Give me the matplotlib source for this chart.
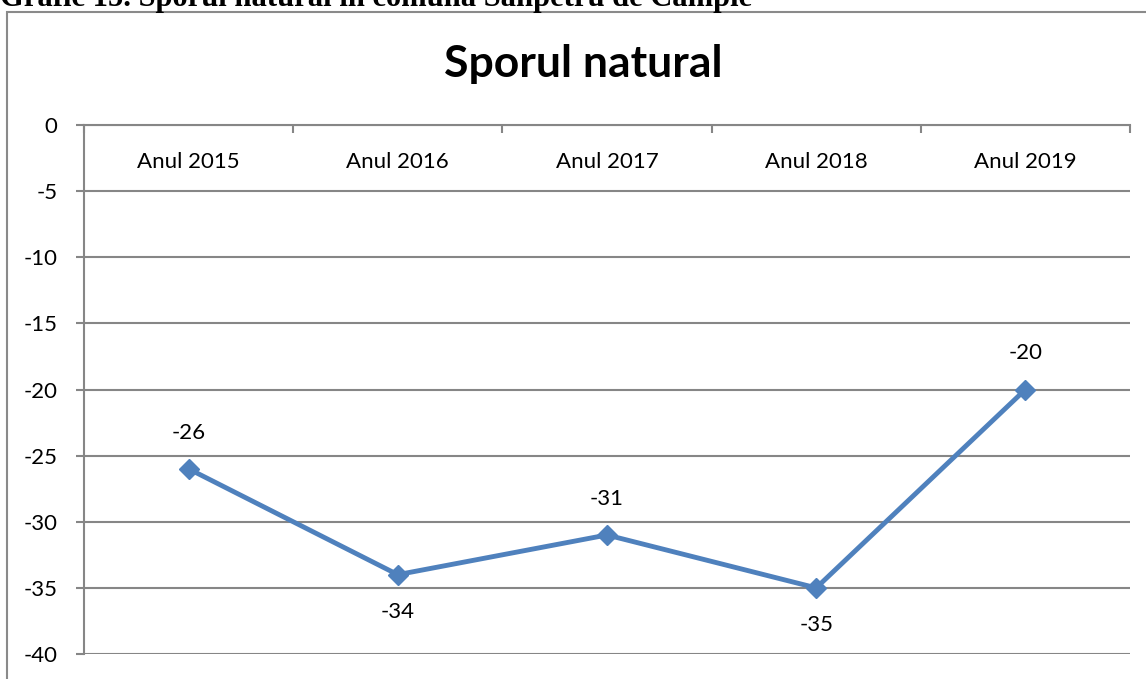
import matplotlib.pyplot as plt
from matplotlib.patches import Rectangle

years = ['Anul 2015', 'Anul 2016', 'Anul 2017', 'Anul 2018', 'Anul 2019']
sporul = [-26, -34, -31, -35, -20]
label_above = [True, False, True, False, True]
yticks = [0, -5, -10, -15, -20, -25, -30, -35, -40]

blue = '#4F81BD'
grid_col = '#868686'

fig = plt.figure(figsize=(11.46, 6.79), dpi=100)
W, H = 1146, 679

# outer chart frame (cut off on right/bottom)
fig.patches.append(Rectangle((7 / W, -0.1), 1.2, 1 - 12 / H + 0.1, transform=fig.transFigure,
                             fill=False, edgecolor='#8a8a8a', linewidth=1.5))

# caption above the chart, cut off at the top edge
fig.text(0.0, 1 - 6 / H, 'Grafic 15. Sporul natural în comuna Sânpetru de Câmpie',
         family='Liberation Serif', fontweight='bold', fontsize=22, va='baseline', ha='left')

ax = fig.add_axes([84 / W, 1 - 654 / H, 1046 / W, 529 / H])
x = list(range(len(years)))
ax.plot(x, sporul, color=blue, linewidth=3.5, marker='D', markersize=10, zorder=3)

for xi, v, up in zip(x, sporul, label_above):
    ax.annotate(str(v), (xi, v), xytext=(0, 26 if up else -27), textcoords='offset points',
                ha='center', va='center', fontsize=16, family='Lato')

ax.set_xlim(-0.5, 4.5)
ax.set_ylim(-40, 0)
ax.set_yticks(yticks)
ax.set_yticklabels([str(t) for t in yticks], family='Lato', fontsize=16)
ax.tick_params(axis='y', length=6, color=grid_col, width=1.5, pad=13)
ax.yaxis.grid(True, color=grid_col, linewidth=1.5)
ax.set_axisbelow(True)

ax.xaxis.tick_top()
ax.set_xticks([i + 0.5 for i in range(-1, 5)], minor=False)
ax.set_xticklabels([])
ax.tick_params(axis='x', which='major', direction='in', length=6, color=grid_col, width=1.5)
ax.set_xticks(x, minor=True)
ax.set_xticklabels(years, minor=True, family='Lato', fontsize=16)
ax.tick_params(axis='x', which='minor', length=0, top=True, labeltop=True,
               direction='in', pad=-34)

for s in ['right', 'bottom']:
    ax.spines[s].set_visible(False)
for s in ['left', 'top']:
    ax.spines[s].set_color(grid_col)
    ax.spines[s].set_linewidth(1.5)

fig.text(583 / W, 1 - 64 / H, 'Sporul natural', family='Lato', fontweight='bold',
         fontsize=32, ha='center', va='center')

fig.savefig('out.png', dpi=100)
